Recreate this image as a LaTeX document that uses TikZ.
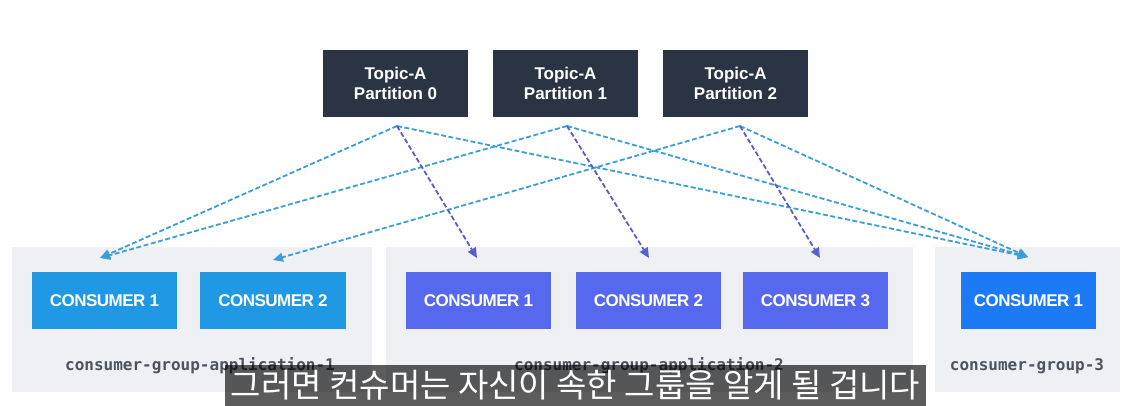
\documentclass[tikz,border=0pt]{standalone}
\usepackage{fontspec}
\setmainfont{Liberation Sans}
\newfontfamily\labelmono{DejaVu Sans Mono}
\newfontfamily\krfont{Noto Sans CJK KR}
\usetikzlibrary{arrows.meta}
\definecolor{groupbg}{HTML}{EEF0F3}
\definecolor{topicbg}{HTML}{2B3445}
\definecolor{consA}{HTML}{2098E3}
\definecolor{consB}{HTML}{5568EE}
\definecolor{consC}{HTML}{1D7AF5}
\definecolor{labelgray}{HTML}{4D535F}
\definecolor{lblue}{HTML}{3A9FD6}
\definecolor{lpurple}{HTML}{5A5ECC}
\tikzset{
  groupbox/.style={fill=groupbg, minimum height=145pt, inner sep=0pt},
  topicbox/.style={fill=topicbg, text=white, minimum width=145pt, minimum height=67pt, inner sep=0pt, align=center, font={\fontsize{17}{20}\selectfont\bfseries}},
  consbox/.style={text=white, minimum width=145pt, minimum height=57pt, inner sep=0pt, font={\addfontfeatures{LetterSpace=-3}\fontsize{17}{18}\selectfont\bfseries}},
  glabel/.style={text=labelgray, inner sep=0pt, font={\labelmono\bfseries\fontsize{16}{18}\selectfont}},
  link/.style={line width=1.8pt, dash pattern=on 5pt off 2.5pt, -{Triangle[length=10pt,width=9pt]}},
  blink/.style={link, draw=lblue},
  plink/.style={link, draw=lpurple},
  subbox/.style={fill=black, fill opacity=0.64, text opacity=1, text=white, minimum width=701pt, minimum height=41pt, inner sep=0pt, font={\krfont\fontsize{33}{34}\selectfont}}
}
\begin{document}
\begin{tikzpicture}[x=1pt,y=-1pt]
\useasboundingbox[fill=white] (0,0) rectangle (1131,405);

% groups
\node[groupbox, minimum width=360pt] (g1) at (192,319.5) {};
\node[groupbox, minimum width=527pt] (g2) at (649.5,319.5) {};
\node[groupbox, minimum width=185pt] (g3) at (1027.5,319.5) {};

% topics
\node[topicbox] (t0) at (395.5,83.5) {Topic-A\\Partition 0};
\node[topicbox] (t1) at (565.5,83.5) {Topic-A\\Partition 1};
\node[topicbox] (t2) at (735.5,83.5) {Topic-A\\Partition 2};

% consumers
\node[consbox, fill=consA] (g1c1) at (104.5,300.5) {CONSUMER 1};
\node[consbox, fill=consA, minimum width=146pt] (g1c2) at (273,300.5) {CONSUMER 2};
\node[consbox, fill=consB] (g2c1) at (478.5,300.5) {CONSUMER 1};
\node[consbox, fill=consB] (g2c2) at (648.5,300.5) {CONSUMER 2};
\node[consbox, fill=consB] (g2c3) at (815.5,300.5) {CONSUMER 3};
\node[consbox, fill=consC, minimum width=135pt] (g3c1) at (1028.5,300.5) {CONSUMER 1};

% group labels
\node[glabel] (l1) at (200,366) {consumer-group-application-1};
\node[glabel] (l2) at (649,366) {consumer-group-application-2};
\node[glabel] (l3) at (1027,366) {consumer-group-3};

% link end points
\coordinate (s0) at (397,126);
\coordinate (s1) at (567,126);
\coordinate (s2) at (740,126);
\coordinate (e11) at (100,258);
\coordinate (e12) at (273,260);
\coordinate (e21) at (477,258);
\coordinate (e22) at (649,258);
\coordinate (e23) at (820,258);
\coordinate (e31) at (1028,257);

% links
\draw[blink] (s0) -- (e11);
\draw[blink] (s1) -- (e11);
\draw[blink] (s2) -- (e12);
\draw[blink] (s0) -- (e31);
\draw[blink] (s1) -- (e31);
\draw[blink] (s2) -- (e31);
\draw[plink] (s0) -- (e21);
\draw[plink] (s1) -- (e22);
\draw[plink] (s2) -- (e23);

% subtitle
\node[subbox] (sub) at (575.5,385) {그러면 컨슈머는 자신이 속한 그룹을 알게 될 겁니다};
\end{tikzpicture}
\end{document}
